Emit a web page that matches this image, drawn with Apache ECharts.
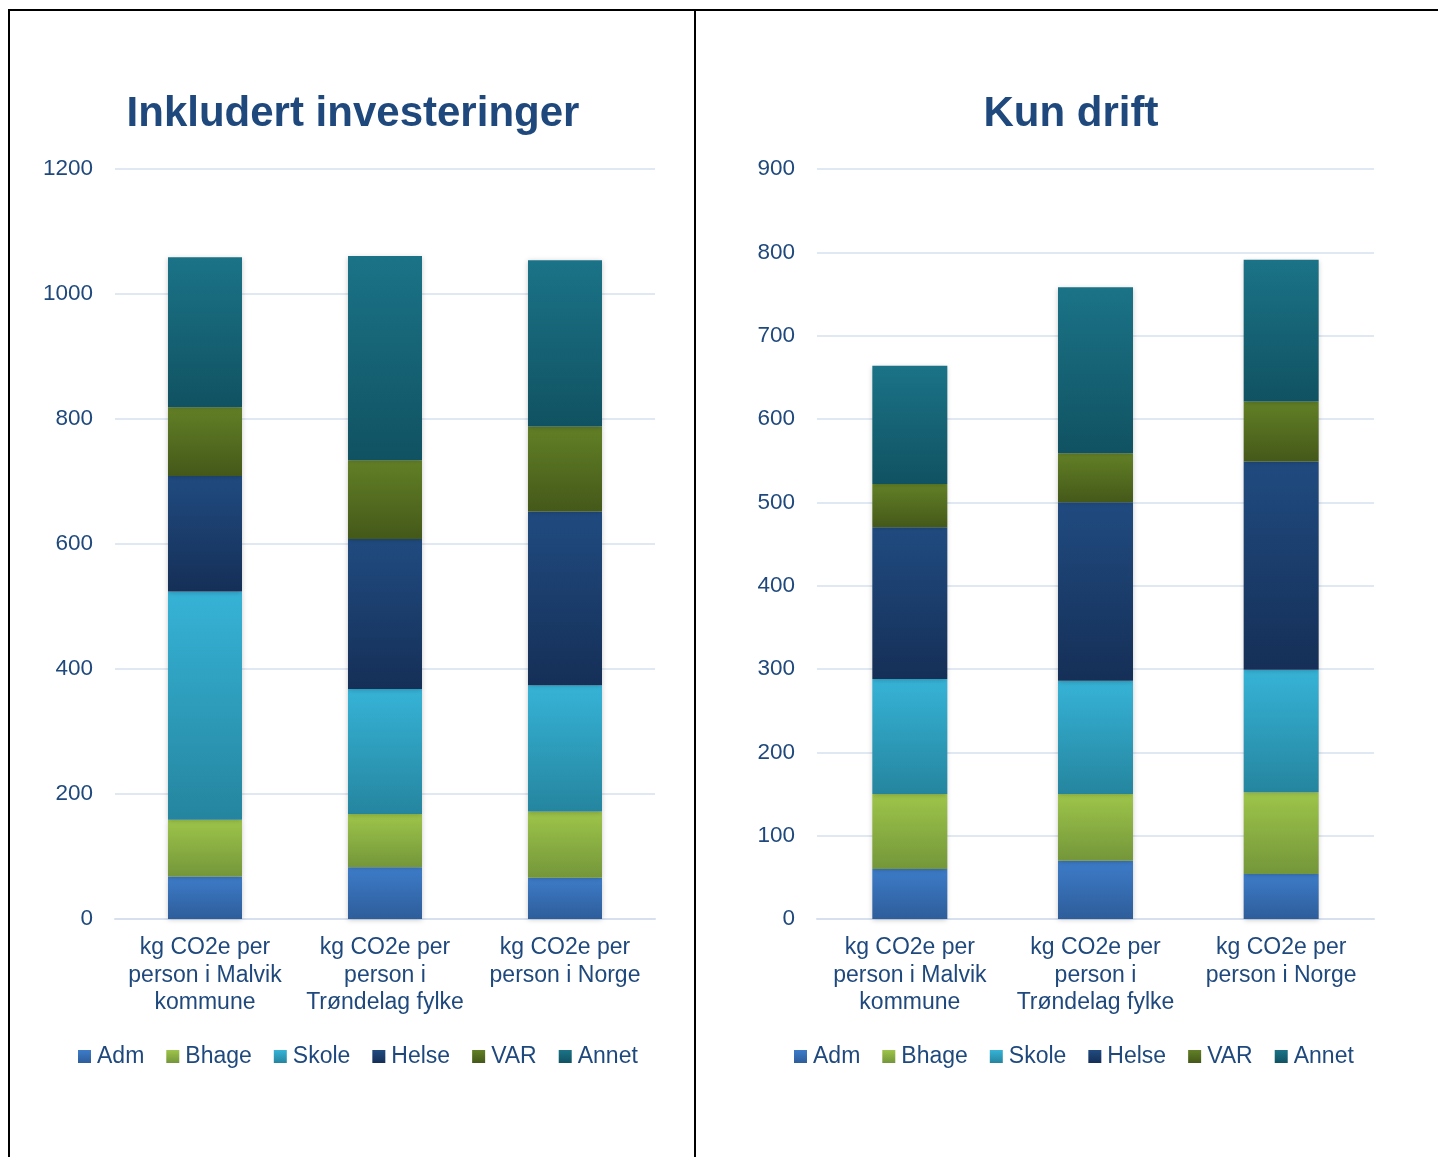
<!DOCTYPE html>
<html>
<head>
<meta charset="utf-8">
<script src="https://cdn.jsdelivr.net/npm/echarts@6/dist/echarts.min.js"></script>
<style>
  html, body { margin: 0; padding: 0; background: #fff; }
  #chart { width: 1438px; height: 1157px; }
</style>
</head>
<body>
<div id="chart"></div>
<script>
const categories = [
  'kg CO2e per\nperson i Malvik\nkommune',
  'kg CO2e per\nperson i\nTrøndelag fylke',
  'kg CO2e per\nperson i Norge'
];
const seriesNames = ['Adm', 'Bhage', 'Skole', 'Helse', 'VAR', 'Annet'];

// Inkludert investeringer
const inklAdm = [68, 83, 66];
const inklBhage = [91, 85, 106];
const inklSkole = [365, 200, 202];
const inklHelse = [185, 240, 278];
const inklVar = [110, 126, 136];
const inklAnnet = [240, 327, 266];

// Kun drift
const driftAdm = [60, 70, 54];
const driftBhage = [90, 80, 98];
const driftSkole = [138, 136, 147];
const driftHelse = [182, 214, 250];
const driftVar = [52, 59, 72];
const driftAnnet = [142, 199, 170];

const inklData = [inklAdm, inklBhage, inklSkole, inklHelse, inklVar, inklAnnet];
const driftData = [driftAdm, driftBhage, driftSkole, driftHelse, driftVar, driftAnnet];

// top -> bottom gradient stops
const gradients = [
  ['#3d7cc9', '#2e5d9a'],
  ['#9ec54a', '#74963a'],
  ['#36b3d7', '#25859f'],
  ['#204b80', '#152f57'],
  ['#628026', '#445819'],
  ['#1b7387', '#105262']
];

const textColor = '#1f497d';
const gridColor = '#d6e0ef';
const font = "'Liberation Sans', Arial, sans-serif";

const chart = echarts.init(document.getElementById('chart'));

function makeSeries(data, idx, stack, width) {
  return seriesNames.map(function (name, i) {
    return {
      name: name,
      type: 'bar',
      stack: stack,
      xAxisIndex: idx,
      yAxisIndex: idx,
      barWidth: width,
      itemStyle: {
        color: new echarts.graphic.LinearGradient(0, 0, 0, 1, [
          { offset: 0, color: gradients[i][0] },
          { offset: 1, color: gradients[i][1] }
        ]),
        shadowBlur: 5,
        shadowColor: 'rgba(0,0,0,0.22)',
        shadowOffsetY: 1
      },
      data: data[i]
    };
  });
}

function xAxis(idx) {
  return {
    type: 'category',
    gridIndex: idx,
    data: categories,
    axisTick: { show: false },
    axisLine: { lineStyle: { color: gridColor, width: 2 } },
    axisLabel: {
      color: textColor,
      fontSize: 23,
      lineHeight: 27.5,
      margin: 15,
      interval: 0,
      fontFamily: font
    }
  };
}

function yAxis(idx, max, interval) {
  return {
    type: 'value',
    gridIndex: idx,
    min: 0,
    max: max,
    interval: interval,
    axisLine: { show: false },
    axisTick: { show: false },
    splitLine: { lineStyle: { color: gridColor, width: 1.5 } },
    axisLabel: {
      color: textColor,
      fontSize: 22.5,
      margin: 22,
      fontFamily: font,
      formatter: function (v) { return String(v); }
    }
  };
}

function legend(left) {
  return {
    data: seriesNames,
    left: left,
    top: 1045,
    padding: 0,
    itemWidth: 13,
    itemHeight: 13,
    itemGap: 22,
    icon: 'rect',
    textStyle: {
      color: textColor,
      fontSize: 23,
      padding: [0, 0, 0, 1],
      fontFamily: font
    }
  };
}

const option = {
  animation: false,
  backgroundColor: '#fff',
  title: [
    {
      text: 'Inkludert investeringer',
      left: 348,
      top: 88,
      textAlign: 'center',
      textStyle: { color: textColor, fontSize: 42, fontWeight: 'bold', fontFamily: font }
    },
    {
      text: 'Kun drift',
      left: 1066,
      top: 88,
      textAlign: 'center',
      textStyle: { color: textColor, fontSize: 42, fontWeight: 'bold', fontFamily: font }
    }
  ],
  legend: [legend(78), legend(794)],
  grid: [
    { left: 115, right: 783, top: 169, bottom: 238 },
    { left: 817, right: 64, top: 169, bottom: 238 }
  ],
  xAxis: [xAxis(0), xAxis(1)],
  yAxis: [yAxis(0, 1200, 200), yAxis(1, 900, 100)],
  series: makeSeries(inklData, 0, 'inkl', 74).concat(makeSeries(driftData, 1, 'drift', 75)),
  graphic: [
    { type: 'line', shape: { x1: 8, y1: 10, x2: 1438, y2: 10 }, style: { stroke: '#000', lineWidth: 2 } },
    { type: 'line', shape: { x1: 9, y1: 9, x2: 9, y2: 1157 }, style: { stroke: '#000', lineWidth: 2 } },
    { type: 'line', shape: { x1: 695, y1: 9, x2: 695, y2: 1157 }, style: { stroke: '#000', lineWidth: 2 } }
  ]
};

chart.setOption(option);
</script>
</body>
</html>
